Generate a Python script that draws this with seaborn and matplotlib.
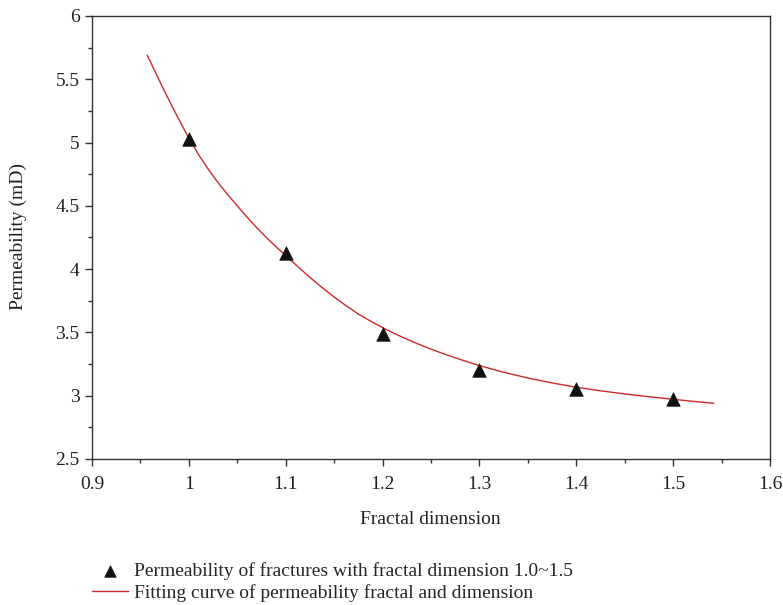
import numpy as np
import pandas as pd
import matplotlib
matplotlib.use("Agg")
import matplotlib.pyplot as plt
import seaborn as sns
from matplotlib.ticker import MultipleLocator

# Measured points
fractal_dim = [1.0, 1.1, 1.2, 1.3, 1.4, 1.5]
permeability = [5.03, 4.13, 3.485, 3.20, 3.055, 2.975]

# Fitting curve
fit_x = [0.957, 0.965, 0.975, 0.985, 0.995, 1.000, 1.010, 1.020, 1.030, 1.040,
         1.050, 1.060, 1.070, 1.080, 1.090, 1.100, 1.1125, 1.125, 1.1375, 1.150,
         1.1625, 1.175, 1.1875, 1.200, 1.2125, 1.225, 1.2375, 1.250, 1.2625,
         1.275, 1.2875, 1.300, 1.325, 1.350, 1.375, 1.400, 1.425, 1.450, 1.475,
         1.500, 1.520, 1.542]
fit_y = [5.690, 5.562, 5.404, 5.252, 5.106, 5.035, 4.905, 4.790, 4.685, 4.590,
         4.500, 4.412, 4.328, 4.250, 4.177, 4.108, 4.020, 3.935, 3.855, 3.780,
         3.710, 3.645, 3.590, 3.538, 3.490, 3.447, 3.406, 3.368, 3.333,
         3.300, 3.268, 3.238, 3.185, 3.140, 3.101, 3.067, 3.039, 3.014, 2.992,
         2.972, 2.956, 2.940]

label_pts = "Permeability of fractures with fractal dimension 1.0~1.5"
label_fit = "Fitting curve of permeability fractal and dimension"

sns.set_theme(style="ticks")
plt.rcParams['font.family'] = ['Liberation Serif', 'DejaVu Serif']

FS = 14

fig = plt.figure(figsize=(7.83, 6.05), dpi=100)
ax = fig.add_axes([92/783, 1-459/605, (770-92)/783, (459-16)/605])

df_pts = pd.DataFrame({"x": fractal_dim, "y": permeability})
df_fit = pd.DataFrame({"x": fit_x, "y": fit_y})

sns.lineplot(data=df_fit, x="x", y="y", ax=ax, color="#cc2a2a", linewidth=1.0,
             label=label_fit, sort=False)
sns.scatterplot(data=df_pts, x="x", y="y", ax=ax, marker="^", s=95,
                color="#111111", edgecolor="#111111", linewidth=0.5,
                label=label_pts, zorder=3)

ax.set_xlim(0.9, 1.6)
ax.set_ylim(2.5, 6.0)
ax.xaxis.set_major_locator(MultipleLocator(0.1))
ax.xaxis.set_minor_locator(MultipleLocator(0.05))
ax.yaxis.set_major_locator(MultipleLocator(0.5))
ax.yaxis.set_minor_locator(MultipleLocator(0.25))
ax.set_xticklabels([f"{v:g}" for v in ax.get_xticks()])
ax.set_yticklabels([f"{v:g}" for v in ax.get_yticks()])

for s in ax.spines.values():
    s.set_visible(True)
    s.set_color("#333333")
    s.set_linewidth(1.0)

ax.tick_params(which="major", direction="out", length=5, width=1, colors="#333333",
               labelsize=FS, labelcolor="#222222", top=False, right=False)
ax.tick_params(which="minor", direction="out", length=3, width=1, colors="#333333",
               top=False, right=False)
ax.tick_params(axis="x", pad=7)
ax.tick_params(axis="y", pad=4)

ax.set_xlabel("Fractal dimension", fontsize=FS, color="#222222", va="center")
ax.set_ylabel("Permeability (mD)", fontsize=FS, color="#222222", va="center")
ax.xaxis.set_label_coords((430-92)/678, (459-520)/443)
ax.yaxis.set_label_coords((18-92)/678, (459-237)/443)

handles, labels = ax.get_legend_handles_labels()
ax.get_legend().remove()
order = [labels.index(label_pts), labels.index(label_fit)]
fig.legend([handles[i] for i in order], [labels[i] for i in order],
           loc="upper left", bbox_to_anchor=(92/783, 1-562/605), frameon=False,
           fontsize=FS, handlelength=1.85, handletextpad=0.3, labelspacing=0.2,
           borderpad=0, borderaxespad=0, markerscale=0.85)

fig.savefig("out.png", dpi=100)
